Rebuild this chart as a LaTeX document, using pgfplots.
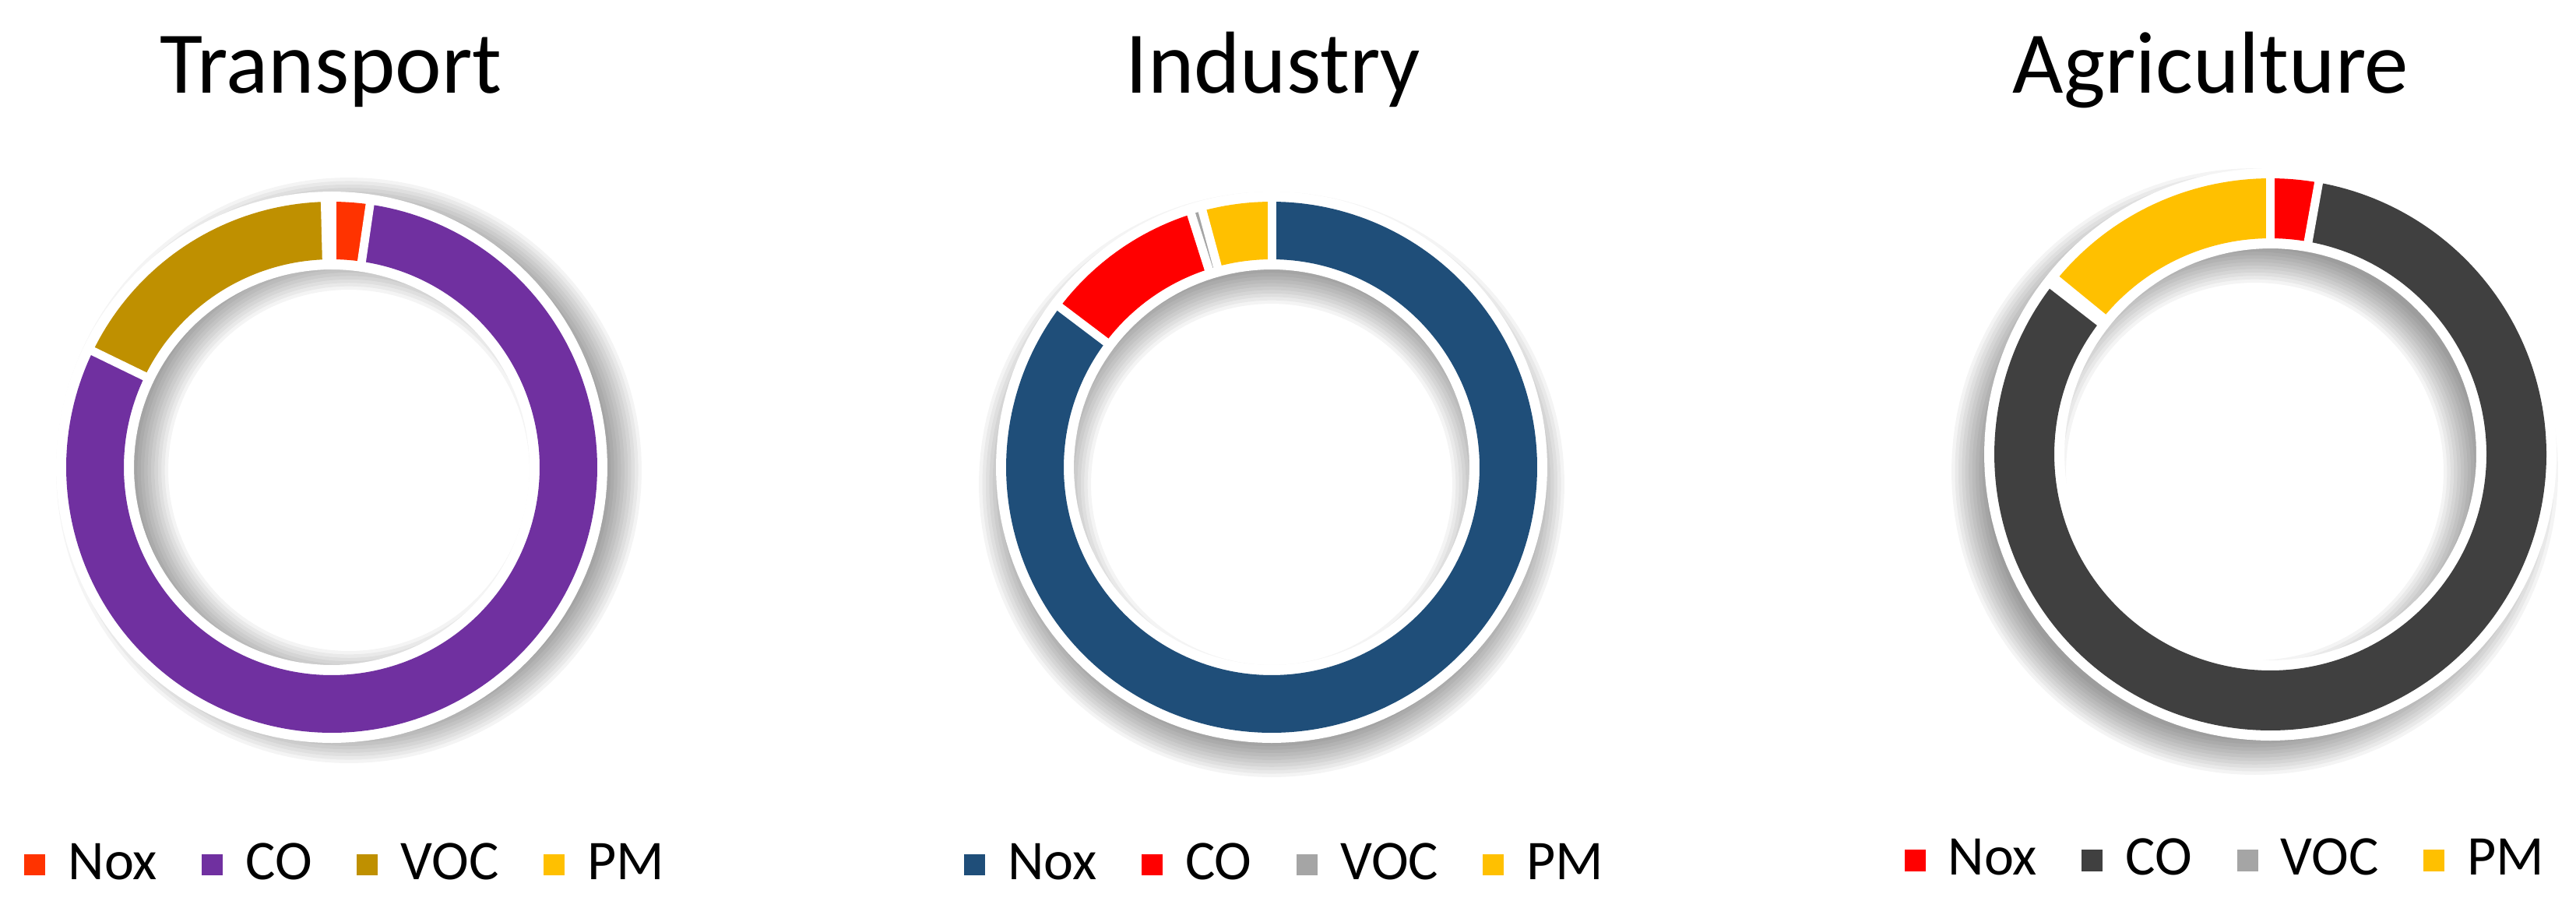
\documentclass[border=0pt]{standalone}
\usepackage{fontspec}
\setmainfont{Carlito}
\usepackage{pgfplots}
\usepackage{pgfplotstable}
\pgfplotsset{compat=1.18}

\definecolor{tNox}{HTML}{FF3300}
\definecolor{tCO}{HTML}{7030A0}
\definecolor{tVOC}{HTML}{BF9000}
\definecolor{iNox}{HTML}{1F4E79}
\definecolor{red0}{HTML}{FF0000}
\definecolor{aCO}{HTML}{404040}
\definecolor{grey0}{HTML}{A5A5A5}
\definecolor{pmYel}{HTML}{FFC000}

% shares in percent, clockwise from 12 o'clock
\pgfplotstableread{
gas share colour
Nox 2.3 tNox
CO 79.9 tCO
VOC 17.4 tVOC
PM 0.4 pmYel
}\transport
\pgfplotstableread{
gas share colour
Nox 85.3 iNox
CO 9.8 red0
VOC 0.7 grey0
PM 4.2 pmYel
}\industry
\pgfplotstableread{
gas share colour
Nox 2.8 red0
CO 82.7 aCO
VOC 0.4 grey0
PM 14.1 pmYel
}\agriculture

% 1 unit = 1 px of the 3308x1165 picture
\def\pxu{0.15}
\def\bord{13}
\def\blur{22}

% #1 table, #2 cx, #3 cy, #4 outer radius, #5 inner radius, #6 #7 shadow offset
\newcommand\donut[7]{%
  \pgfmathsetmacro\rmid{(#4+#5)/2}%
  \pgfplotsforeachungrouped \k in {0,...,10}{%
    \pgfmathsetmacro\lw{(#4-#5+2*\bord-2*\blur+4*\blur*\k/10)*\pxu}%
    \edef\cmd{\noexpand\addplot[forget plot, draw=black, draw opacity=0.045, line width=\lw pt, domain=0:360, samples=151]
      ({#2+#6+\rmid*sin(x)},{#3+#7+\rmid*cos(x)}) -- cycle;}%
    \cmd
  }%
  \pgfmathsetmacro\lw{(#4-#5+2*\bord)*\pxu}%
  \edef\cmd{\noexpand\addplot[forget plot, draw=white, line width=\lw pt, domain=0:360, samples=151]
    ({#2+\rmid*sin(x)},{#3+\rmid*cos(x)}) -- cycle;}%
  \cmd
  \pgfmathsetmacro\lw{(#4-#5)*\pxu}%
  \def\acc{0}%
  \pgfplotsforeachungrouped \i in {0,...,3}{%
    \pgfplotstablegetelem{\i}{share}\of#1\let\sh\pgfplotsretval
    \pgfplotstablegetelem{\i}{colour}\of#1\let\col\pgfplotsretval
    \pgfplotstablegetelem{\i}{gas}\of#1\let\gas\pgfplotsretval
    \pgfmathsetmacro\ta{\acc*3.6}%
    \pgfmathsetmacro\tb{(\acc+\sh)*3.6}%
    \pgfmathtruncatemacro\ns{(\tb-\ta)/1.5+3}%
    \edef\cmd{\noexpand\addplot[forget plot, draw=\col, line width=\lw pt, domain=\ta:\tb, samples=\ns]
      ({#2+\rmid*sin(x)},{#3+\rmid*cos(x)});
      \noexpand\addlegendimage{fill=\col}\noexpand\addlegendentry{\gas}}%
    \cmd
    \pgfmathsetmacro\acc{\acc+\sh}%
  }%
  % white borders between the slices
  \pgfmathsetmacro\lw{11*\pxu}%
  \def\acc{0}%
  \pgfplotsforeachungrouped \i in {0,...,3}{%
    \pgfplotstablegetelem{\i}{share}\of#1\let\sh\pgfplotsretval
    \pgfmathsetmacro\ta{\acc*3.6}%
    \edef\cmd{\noexpand\addplot[forget plot, draw=white, line width=\lw pt, domain=#5-3:#4+3, samples=2]
      ({#2+x*sin(\ta)},{#3+x*cos(\ta)});}%
    \cmd
    \pgfmathsetmacro\acc{\acc+\sh}%
  }%
}

\pgfplotsset{donutax/.style={
  x=0.15pt, y=0.15pt, xmin=0, xmax=3308, ymin=0, ymax=1165,
  hide axis, clip=false, at={(0,0)}, anchor=south west,
  legend columns=4,
  legend image code/.code={\fill[##1, draw=none] (0pt,-2.03pt) rectangle (4.05pt,2.03pt);},
  legend style={draw=none, fill=none, anchor=center,
    font=\fontsize{10.8}{13}\selectfont,
    /tikz/every odd column/.append style={column sep=2.4pt},
    /tikz/every even column/.append style={column sep=6.6pt}}}}

\begin{document}
\begin{tikzpicture}
\useasboundingbox (0,0) rectangle (496.2pt,174.75pt);

\begin{axis}[donutax, legend style={at={(axis description cs:0.1357,0.0464)}}]
\donut{\transport}{426}{565}{341}{267}{22}{-4}
\node[font=\fontsize{16.95}{20}\selectfont, anchor=base] at (axis cs:425,1046) {Transport};
\end{axis}

\begin{axis}[donutax, legend style={at={(axis description cs:0.5004,0.0464)}}]
\donut{\industry}{1633}{565}{341}{267}{0}{-22}
\node[font=\fontsize{16.95}{20}\selectfont, anchor=base] at (axis cs:1635,1046) {Industry};
\end{axis}

\begin{axis}[donutax, legend style={at={(axis description cs:0.8655,0.0515)}}]
\donut{\agriculture}{2915.5}{581.5}{354.5}{277.5}{-20}{-22}
\node[font=\fontsize{16.95}{20}\selectfont, anchor=base] at (axis cs:2839,1046) {Agriculture};
\end{axis}
\end{tikzpicture}
\end{document}
